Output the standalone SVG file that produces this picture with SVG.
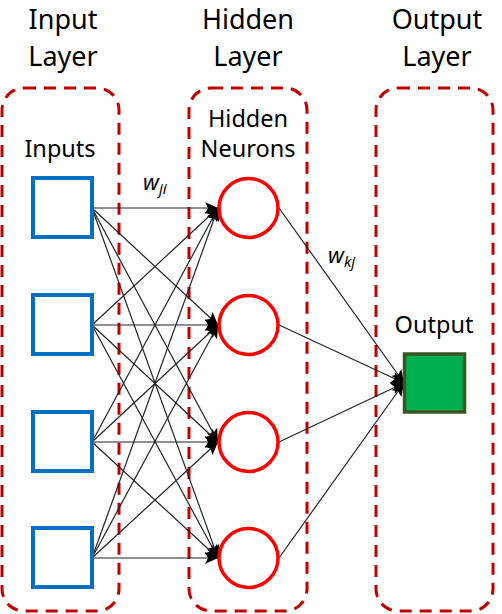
<svg xmlns="http://www.w3.org/2000/svg" width="502" height="614" viewBox="0 0 502 614">
<style>
.layer{fill:none;stroke:#C00000;stroke-width:3;stroke-dasharray:12 8}
.t{font-family:"Noto Sans","Liberation Sans",sans-serif;fill:#000;text-anchor:middle}
.h{font-size:27px}
.s{font-size:23.5px}
.w{font-family:"Noto Sans","Liberation Sans",sans-serif;font-style:italic;font-size:22px}
.ws{font-size:15px}
.in{fill:#fff;stroke:#0070C0;stroke-width:4}
.hid{fill:#fff;stroke:#FF0000;stroke-width:3.5}
.out{fill:#00B050;stroke:#375623;stroke-width:3.5}
.c line{stroke:#222;stroke-width:1.2;marker-end:url(#a)}
</style>
<defs>
<marker id="a" markerUnits="userSpaceOnUse" markerWidth="14" markerHeight="12" refX="13" refY="6" orient="auto">
<path d="M0,0 L13,6 L0,12 L3,6 Z" fill="#000"/>
</marker>
</defs>
<g id="layer-input"><rect class="layer" x="2" y="88" width="117" height="523" rx="22"/></g>
<g id="layer-hidden"><rect class="layer" x="189" y="88" width="118" height="523" rx="22"/></g>
<g id="layer-output"><rect class="layer" x="376" y="88" width="117" height="523" rx="22"/></g>
<g id="titles">
<text class="t h" x="63" y="29">Input</text>
<text class="t h" x="63" y="66">Layer</text>
<text class="t h" x="248" y="29">Hidden</text>
<text class="t h" x="248" y="66">Layer</text>
<text class="t h" x="437" y="29">Output</text>
<text class="t h" x="437" y="66">Layer</text>
<text class="t s" x="60" y="157">Inputs</text>
<text class="t s" x="248" y="127">Hidden</text>
<text class="t s" x="248" y="157">Neurons</text>
<text class="t s" x="434" y="333">Output</text>
</g>
<g id="connectors" class="c">
<line x1="92" y1="208" x2="218" y2="208"/>
<line x1="92" y1="208" x2="218" y2="325"/>
<line x1="92" y1="208" x2="218" y2="442"/>
<line x1="92" y1="208" x2="218" y2="558"/>
<line x1="92" y1="325" x2="218" y2="208"/>
<line x1="92" y1="325" x2="218" y2="325"/>
<line x1="92" y1="325" x2="218" y2="442"/>
<line x1="92" y1="325" x2="218" y2="558"/>
<line x1="92" y1="442" x2="218" y2="208"/>
<line x1="92" y1="442" x2="218" y2="325"/>
<line x1="92" y1="442" x2="218" y2="442"/>
<line x1="92" y1="442" x2="218" y2="558"/>
<line x1="92" y1="558" x2="218" y2="208"/>
<line x1="92" y1="558" x2="218" y2="325"/>
<line x1="92" y1="558" x2="218" y2="442"/>
<line x1="92" y1="558" x2="218" y2="558"/>
<line x1="279" y1="208" x2="404" y2="383"/>
<line x1="279" y1="325" x2="404" y2="383"/>
<line x1="279" y1="442" x2="404" y2="383"/>
<line x1="279" y1="558" x2="404" y2="383"/>
</g>
<g id="input1"><rect class="in" x="33" y="178" width="59" height="59"/></g>
<g id="input2"><rect class="in" x="33" y="295" width="59" height="59"/></g>
<g id="input3"><rect class="in" x="33" y="412" width="59" height="59"/></g>
<g id="input4"><rect class="in" x="33" y="528" width="59" height="59"/></g>
<g id="hidden1"><circle class="hid" cx="248.5" cy="208" r="29.5"/></g>
<g id="hidden2"><circle class="hid" cx="248.5" cy="325" r="29.5"/></g>
<g id="hidden3"><circle class="hid" cx="248.5" cy="442" r="29.5"/></g>
<g id="hidden4"><circle class="hid" cx="248.5" cy="558" r="29.5"/></g>
<g id="output"><rect class="out" x="404.5" y="354" width="60" height="58"/></g>
<g id="weights">
<text class="w" x="143" y="190">w<tspan class="ws" dy="4">ji</tspan></text>
<text class="w" x="328" y="263">w<tspan class="ws" dy="4">kj</tspan></text>
</g>
</svg>
